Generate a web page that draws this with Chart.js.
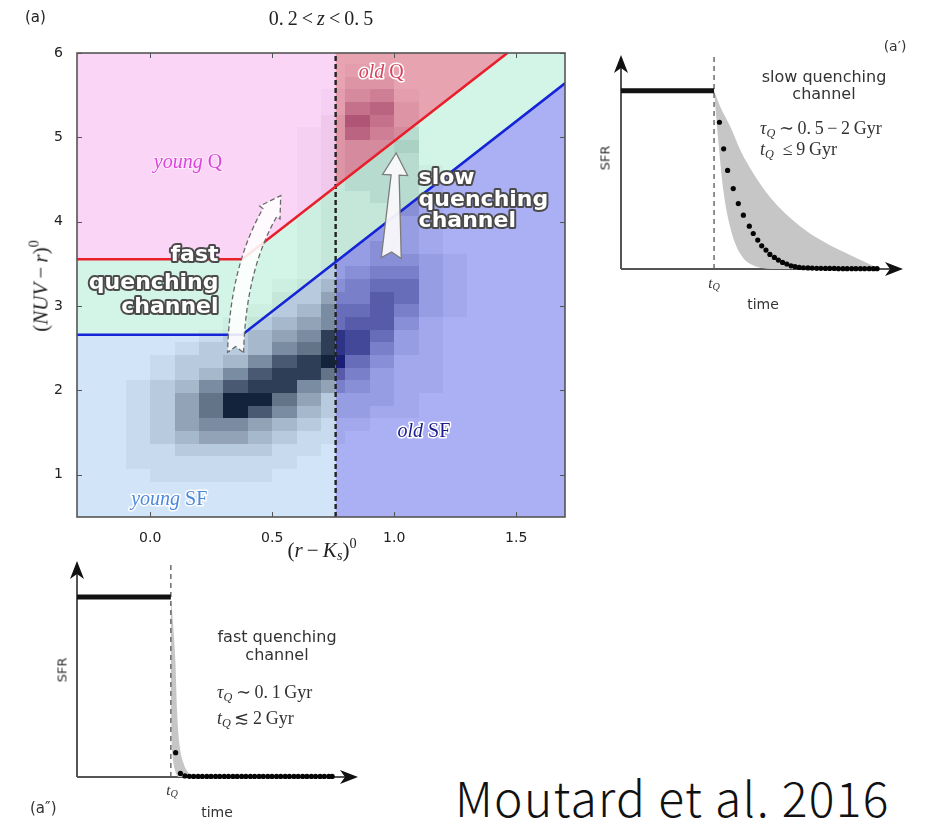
<!DOCTYPE html>
<html>
<head>
<meta charset="utf-8">
<script src="https://cdn.jsdelivr.net/npm/chart.js@4.4.1/dist/chart.umd.min.js"></script>
<style>
  html, body { margin: 0; padding: 0; background: #fff; }
  body { width: 935px; height: 824px; position: relative; overflow: hidden;
         font-family: "DejaVu Sans", sans-serif; color: #222; }
  canvas { position: absolute; }
  .abs { position: absolute; white-space: nowrap; line-height: 1; }
  .c { transform: translate(-50%, -50%); }
  .l { transform: translateY(-50%); }
  .rot { transform: translate(-50%, -50%) rotate(-90deg); }
  .serif { font-family: "Liberation Serif", "DejaVu Serif", serif; }
  sub, sup { font-size: 68%; line-height: 0; }
  sub { vertical-align: -0.25em; }
  sup { vertical-align: 0.6em; }
</style>
</head>
<body>

<canvas id="main" width="600" height="570" style="left:0;top:0"></canvas>
<canvas id="slow" width="345" height="280" style="left:590px;top:40px"></canvas>
<canvas id="fast" width="345" height="276" style="left:46px;top:548px"></canvas>

<!-- main panel text -->
<div class="abs l" style="left:25px;top:17px;font-size:15px;color:#222">(a)</div>
<div class="abs c serif" style="left:321px;top:18px;font-size:20px;color:#222">0.&#8201;2&#8201;&lt;&#8201;<i>z</i>&#8201;&lt;&#8201;0.&#8201;5</div>
<div class="abs rot serif" style="left:41px;top:286px;font-size:21px;color:#222">(<i>NUV</i>&#8201;−&#8201;<i>r</i>)<sup>0</sup></div>
<div class="abs c serif" style="left:322px;top:550px;font-size:21px;color:#222">(<i>r</i>&#8201;−&#8201;<i>K<sub>s</sub></i>)<sup>0</sup></div>

<!-- slow quenching panel text -->
<div class="abs c" style="left:895px;top:46px;font-size:14px;color:#333">(a′)</div>
<div class="abs c" style="left:824px;top:77px;font-size:16px;color:#333">slow quenching</div>
<div class="abs c" style="left:824px;top:94px;font-size:16px;color:#333">channel</div>
<div class="abs l serif" style="left:760px;top:128px;font-size:18px;color:#333"><i>τ<sub>Q</sub></i>&#8201;∼&#8201;0.&#8201;5&#8201;−&#8201;2&#8201;Gyr</div>
<div class="abs l serif" style="left:760px;top:149px;font-size:18px;color:#333"><i>t<sub>Q</sub></i>&#8194;≤&#8201;9&#8201;Gyr</div>
<div class="abs rot" style="left:605px;top:158px;font-size:13px;color:#333">SFR</div>
<div class="abs c serif" style="left:714px;top:283px;font-size:15px;color:#333"><i>t<sub>Q</sub></i></div>
<div class="abs c" style="left:763px;top:304px;font-size:14px;color:#333">time</div>

<!-- fast quenching panel text -->
<div class="abs c" style="left:277px;top:637px;font-size:16px;color:#333">fast quenching</div>
<div class="abs c" style="left:277px;top:655px;font-size:16px;color:#333">channel</div>
<div class="abs l serif" style="left:217px;top:692px;font-size:18px;color:#333"><i>τ<sub>Q</sub></i>&#8201;∼&#8201;0.&#8201;1&#8201;Gyr</div>
<div class="abs l serif" style="left:217px;top:718px;font-size:18px;color:#333"><i>t<sub>Q</sub></i>&#8201;≲&#8201;2&#8201;Gyr</div>
<div class="abs rot" style="left:62px;top:670px;font-size:13px;color:#333">SFR</div>
<div class="abs c serif" style="left:172px;top:790px;font-size:15px;color:#333"><i>t<sub>Q</sub></i></div>
<div class="abs c" style="left:217px;top:812px;font-size:14px;color:#333">time</div>
<div class="abs l" style="left:30px;top:808px;font-size:15px;color:#333">(a″)</div>

<div class="abs l" style="left:455px;top:796px;font-size:48px;font-weight:300;letter-spacing:1.3px;color:#111;font-family:'Noto Sans CJK JP','Noto Sans',sans-serif">Moutard et al. 2016</div>

<script>
// ---------------- colour–colour diagram data ----------------
const xTickValues = [0.0, 0.5, 1.0, 1.5];
const yTickValues = [1, 2, 3, 4, 5, 6];
const xRange = [-0.3, 1.7];
const yRange = [0.5, 6.0];
const ageCut = 0.76;                     // young / old split in (r-Ks)

// quiescent boundary (red) and star-forming boundary (blue)
const redLineX  = [-0.3, 0.377, 1.464];
const redLineY  = [3.555, 3.555, 6.0];
const blueLineX = [-0.3, 0.377, 1.7];
const blueLineY = [2.66, 2.66, 5.64];

// 2D histogram: bins of 0.1 in (r-Ks) starting at -0.3, 0.15 in (NUV-r) starting at 0.47
const binX0 = -0.3, binDX = 0.1, binY0 = 0.47, binDY = 0.15;
// relative density (0..9); first row is the lowest (NUV-r) bin
const densityRows = [
  [0,0,0,0,0,0,0,0,0,0,0,0,0,0,0,0,0,0,0,0],
  [0,0,0,0,0,0,0,0,0,0,0,0,0,0,0,0,0,0,0,0],
  [0,0,0,0,0,0,0,0,0,0,0,0,0,0,0,0,0,0,0,0],
  [0,0,0,1,1,1,1,1,0,0,0,0,0,0,0,0,0,0,0,0],
  [0,0,1,1,1,1,1,1,1,0,0,0,0,0,0,0,0,0,0,0],
  [0,0,1,1,2,2,2,2,1,1,0,0,0,0,0,0,0,0,0,0],
  [0,0,1,2,3,4,4,3,2,1,1,0,0,0,0,0,0,0,0,0],
  [0,0,1,2,4,5,5,4,3,2,1,1,0,0,0,0,0,0,0,0],
  [0,0,1,2,4,6,9,7,5,3,2,2,1,1,0,0,0,0,0,0],
  [0,0,1,2,4,6,9,9,6,4,2,2,2,1,0,0,0,0,0,0],
  [0,0,1,2,3,5,7,8,8,5,4,3,2,1,1,0,0,0,0,0],
  [0,0,0,1,2,3,5,7,8,8,6,4,2,1,1,0,0,0,0,0],
  [0,0,0,1,2,2,3,5,7,8,9,5,3,1,1,0,0,0,0,0],
  [0,0,0,0,1,2,2,3,5,6,8,7,4,2,1,0,0,0,0,0],
  [0,0,0,0,0,1,2,3,4,5,8,7,5,2,1,0,0,0,0,0],
  [0,0,0,0,0,0,1,2,3,4,5,6,6,3,1,0,0,0,0,0],
  [0,0,0,0,0,0,0,1,2,3,5,5,6,4,2,1,0,0,0,0],
  [0,0,0,0,0,0,0,0,2,2,4,4,6,5,2,1,0,0,0,0],
  [0,0,0,0,0,0,0,0,1,2,3,4,5,5,2,1,0,0,0,0],
  [0,0,0,0,0,0,0,0,0,1,2,3,4,4,2,1,0,0,0,0],
  [0,0,0,0,0,0,0,0,0,1,2,2,3,3,2,1,0,0,0,0],
  [0,0,0,0,0,0,0,0,0,1,2,2,3,2,1,0,0,0,0,0],
  [0,0,0,0,0,0,0,0,0,1,2,2,2,2,1,0,0,0,0,0],
  [0,0,0,0,0,0,0,0,0,1,2,2,2,2,1,0,0,0,0,0],
  [0,0,0,0,0,0,0,0,0,1,2,2,2,3,1,0,0,0,0,0],
  [0,0,0,0,0,0,0,0,0,1,2,2,3,3,1,0,0,0,0,0],
  [0,0,0,0,0,0,0,0,0,1,2,3,3,3,1,0,0,0,0,0],
  [0,0,0,0,0,0,0,0,0,1,2,3,3,3,1,0,0,0,0,0],
  [0,0,0,0,0,0,0,0,0,1,2,3,3,3,0,0,0,0,0,0],
  [0,0,0,0,0,0,0,0,0,1,2,3,3,4,0,0,0,0,0,0],
  [0,0,0,0,0,0,0,0,0,1,2,6,4,3,0,0,0,0,0,0],
  [0,0,0,0,0,0,0,0,0,0,2,7,5,2,0,0,0,0,0,0],
  [0,0,0,0,0,0,0,0,0,0,1,5,6,2,0,0,0,0,0,0],
  [0,0,0,0,0,0,0,0,0,0,1,3,4,1,0,0,0,0,0,0],
  [0,0,0,0,0,0,0,0,0,0,0,2,2,0,0,0,0,0,0,0],
  [0,0,0,0,0,0,0,0,0,0,0,1,1,0,0,0,0,0,0,0],
  [0,0,0,0,0,0,0,0,0,0,0,0,0,0,0,0,0,0,0,0]
];

// quenching channel arrows, in (r-Ks, NUV-r) units
const slowArrowBase = [0.988, 3.57];
const slowArrowTip  = [1.008, 4.815];
const fastArrowBase = [0.35, 2.45];
const fastArrowBend = [0.36, 3.6];
const fastArrowTip  = [0.535, 4.31];

// ---------------- SFR history data ----------------
const slowTQ = 3.30;
const slowFlatT = [0, 3.30];
const slowFlatSFR = [1, 1];
const slowDotsT = [3.49,3.64,3.78,3.98,4.16,4.34,4.55,4.69,4.85,4.99,5.14,5.28,5.44,5.58,5.73,5.88,6.03,6.17,6.32,
                   6.47,6.63,6.78,6.94,7.09,7.25,7.40,7.56,7.71,7.87,8.02,8.18,8.33,8.49,8.64,8.80,8.95,9.08];
const slowDotsSFR = [0.823,0.674,0.553,0.451,0.367,0.302,0.240,0.199,0.162,0.130,0.106,0.082,0.065,0.050,0.037,0.028,0.018,0.013,0.009,
                     0.007,0.006,0.005,0.004,0.004,0.003,0.003,0.003,0.002,0.002,0.002,0.002,0.002,0.002,0.002,0.002,0.002,0.002];
const slowBandUpT   = [3.30,3.55,3.87,4.25,4.68,5.15,5.64,6.35,7.16,8.23,9.07];
const slowBandUpSFR = [1.0,0.90,0.80,0.66,0.54,0.43,0.34,0.24,0.155,0.07,0.008];
const slowBandLoT   = [3.30,3.45,3.63,3.87,4.22,4.81,5.50,7.00,9.07];
const slowBandLoSFR = [1.0,0.72,0.44,0.236,0.088,0.013,0.0,0.0,0.0];

const fastTQ = 3.34;
const fastFlatT = [0, 3.34];
const fastFlatSFR = [1, 1];
const fastDotsT = [3.51,3.68,3.84,4.00,4.15,4.31,4.46,4.62,4.77,4.93,5.08,5.24,5.39,5.55,5.70,5.86,6.01,6.17,6.32,
                   6.48,6.63,6.79,6.94,7.10,7.25,7.41,7.56,7.72,7.87,8.03,8.18,8.34,8.49,8.65,8.80,8.96,9.08];
const fastDotsSFR = [0.135,0.020,0.006,0.004,0.003,0.003,0.003,0.003,0.003,0.003,0.003,0.003,0.003,0.003,0.003,0.003,0.003,0.003,0.003,
                     0.003,0.003,0.003,0.003,0.003,0.003,0.003,0.003,0.003,0.003,0.003,0.003,0.003,0.003,0.003,0.003,0.003,0.003];
const fastBandUpT   = [3.34,3.42,3.50,3.56,3.64,3.79,4.03];
const fastBandUpSFR = [1.0,0.85,0.65,0.37,0.19,0.076,0.01];
const fastBandLoT   = [3.34,3.35,3.40,3.50,3.62,4.03];
const fastBandLoSFR = [1.0,0.40,0.12,0.03,0.0,0.0];

// ---------------- helpers ----------------
const pts = (xs, ys) => xs.map((x, i) => ({ x, y: ys[i] }));
const SERIF = '"Liberation Serif", "DejaVu Serif", serif';
const SANS = '"DejaVu Sans", sans-serif';

// region styles: background colour and tint of the density cells
const regionStyles = {
  youngQ:  { bg: '#fad5f6', tint: '120,50,120', gain: 0.6 },
  oldQ:    { bg: '#e8a3b1', tint: '140,35,80',  gain: 0.85 },
  valley:  { bg: '#d3f5e8', tint: '40,95,80',   gain: 0.7 },
  youngSF: { bg: '#d2e4f7', tint: '8,24,48',    gain: 0.95 },
  oldSF:   { bg: '#aab0f3', tint: '18,22,110',  gain: 0.95 }
};

function boundaryPath(ctx, sx, sy, xs, ys, above) {
  const n = xs.length;
  const slope = (ys[n - 1] - ys[n - 2]) / (xs[n - 1] - xs[n - 2]);
  const ext = 3;
  const cap = above ? yRange[1] + 20 : yRange[0] - 20;
  const poly = [[xs[0] - ext, ys[0]]]
    .concat(xs.map((v, i) => [v, ys[i]]))
    .concat([[xs[n - 1] + ext, ys[n - 1] + slope * ext], [xs[n - 1] + ext, cap], [xs[0] - ext, cap]]);
  ctx.beginPath();
  poly.forEach(([vx, vy], i) => {
    const px = sx.getPixelForValue(vx), py = sy.getPixelForValue(vy);
    if (i) ctx.lineTo(px, py); else ctx.moveTo(px, py);
  });
  ctx.closePath();
}

function drawCells(ctx, sx, sy, style) {
  densityRows.forEach((row, k) => {
    row.forEach((v, i) => {
      if (!v) return;
      const x0 = Math.round(sx.getPixelForValue(binX0 + i * binDX));
      const x1 = Math.round(sx.getPixelForValue(binX0 + (i + 1) * binDX));
      const yb = Math.round(sy.getPixelForValue(binY0 + k * binDY));
      const yt = Math.round(sy.getPixelForValue(binY0 + (k + 1) * binDY));
      const alpha = Math.pow(v / 9, 1.35) * style.gain;
      ctx.fillStyle = `rgba(${style.tint},${alpha.toFixed(3)})`;
      ctx.fillRect(x0, yt, x1 - x0, yb - yt);
    });
  });
}

function drawRich(ctx, parts, cx, cy, align, fill, stroke, lw) {
  let w = 0;
  parts.forEach(p => { ctx.font = p[1]; w += ctx.measureText(p[0]).width; });
  let x = align === 'center' ? cx - w / 2 : align === 'right' ? cx - w : cx;
  ctx.textBaseline = 'middle';
  ctx.textAlign = 'left';
  if (stroke) {
    let xs = x;
    parts.forEach(p => {
      ctx.font = p[1];
      ctx.lineWidth = lw; ctx.strokeStyle = stroke; ctx.lineJoin = 'round';
      ctx.strokeText(p[0], xs, cy);
      xs += ctx.measureText(p[0]).width;
    });
  }
  parts.forEach(p => {
    ctx.font = p[1];
    ctx.fillStyle = fill;
    ctx.fillText(p[0], x, cy);
    x += ctx.measureText(p[0]).width;
  });
}

// ---------------- main diagram plugins ----------------
const regionPlugin = {
  id: 'regions',
  beforeDatasetsDraw(chart) {
    const { ctx, chartArea: a, scales: { x: sx, y: sy } } = chart;
    const cutPx = sx.getPixelForValue(ageCut);
    const specs = [
      { s: regionStyles.youngQ,  zones: [['red', true]],  side: 'young' },
      { s: regionStyles.oldQ,    zones: [['red', true]],  side: 'old' },
      { s: regionStyles.valley,  zones: [['red', false], ['blue', true]], side: null },
      { s: regionStyles.youngSF, zones: [['blue', false]], side: 'young' },
      { s: regionStyles.oldSF,   zones: [['blue', false]], side: 'old' }
    ];
    specs.forEach(sp => {
      ctx.save();
      ctx.beginPath();
      ctx.rect(a.left, a.top, a.right - a.left, a.bottom - a.top);
      ctx.clip();
      sp.zones.forEach(([which, above]) => {
        if (which === 'red') boundaryPath(ctx, sx, sy, redLineX, redLineY, above);
        else boundaryPath(ctx, sx, sy, blueLineX, blueLineY, above);
        ctx.clip();
      });
      if (sp.side) {
        ctx.beginPath();
        if (sp.side === 'young') ctx.rect(a.left, a.top, cutPx - a.left, a.bottom - a.top);
        else ctx.rect(cutPx, a.top, a.right - cutPx, a.bottom - a.top);
        ctx.clip();
      }
      ctx.fillStyle = sp.s.bg;
      ctx.fillRect(a.left, a.top, a.right - a.left, a.bottom - a.top);
      drawCells(ctx, sx, sy, sp.s);
      ctx.restore();
    });
  }
};

const annotationPlugin = {
  id: 'annotations',
  afterDatasetsDraw(chart) {
    const { ctx, scales: { x: sx, y: sy } } = chart;
    const P = v => [sx.getPixelForValue(v[0]), sy.getPixelForValue(v[1])];
    ctx.save();

    // slow channel: straight tapered arrow
    {
      const B = P(slowArrowBase), T = P(slowArrowTip);
      const dx = T[0] - B[0], dy = T[1] - B[1], L = Math.hypot(dx, dy);
      const d = [dx / L, dy / L], n = [-d[1], d[0]];
      const at = (s, w) => [B[0] + d[0] * s + n[0] * w, B[1] + d[1] * s + n[1] * w];
      const poly = [at(0, 10), at(L - 22, 4), at(L - 22, 12.5), T, at(L - 22, -12.5), at(L - 22, -4), at(0, -10), at(6, 0)];
      ctx.beginPath();
      poly.forEach((p, i) => i ? ctx.lineTo(p[0], p[1]) : ctx.moveTo(p[0], p[1]));
      ctx.closePath();
      ctx.fillStyle = 'rgba(248,248,250,0.95)';
      ctx.fill();
      ctx.strokeStyle = '#7c7c7c';
      ctx.lineWidth = 1.3;
      ctx.stroke();
    }

    // fast channel: curved dashed arrow
    {
      const p0 = P(fastArrowBase), c = P(fastArrowBend), p1 = P(fastArrowTip);
      const bez = t => [(1 - t) * (1 - t) * p0[0] + 2 * (1 - t) * t * c[0] + t * t * p1[0],
                        (1 - t) * (1 - t) * p0[1] + 2 * (1 - t) * t * c[1] + t * t * p1[1]];
      const headL = 20, half = 8, headHalf = 12;
      let th = 1;
      for (let t = 1; t > 0; t -= 0.002) {
        const q = bez(t);
        if (Math.hypot(q[0] - p1[0], q[1] - p1[1]) >= headL) { th = t; break; }
      }
      const N = 40, left = [], right = [];
      for (let j = 0; j <= N; j++) {
        const t = th * j / N;
        const q = bez(t);
        const tx = 2 * (1 - t) * (c[0] - p0[0]) + 2 * t * (p1[0] - c[0]);
        const ty = 2 * (1 - t) * (c[1] - p0[1]) + 2 * t * (p1[1] - c[1]);
        const tl = Math.hypot(tx, ty);
        const nx = -ty / tl, ny = tx / tl;
        left.push([q[0] + nx * half, q[1] + ny * half]);
        right.push([q[0] - nx * half, q[1] - ny * half]);
      }
      const hb = bez(th);
      const hx = p1[0] - hb[0], hy = p1[1] - hb[1], hl = Math.hypot(hx, hy);
      const hn = [-hy / hl, hx / hl];
      const t0x = c[0] - p0[0], t0y = c[1] - p0[1], t0l = Math.hypot(t0x, t0y);
      const notch = [p0[0] + t0x / t0l * 6, p0[1] + t0y / t0l * 6];
      const poly = left.concat([[hb[0] + hn[0] * headHalf, hb[1] + hn[1] * headHalf], p1,
                                [hb[0] - hn[0] * headHalf, hb[1] - hn[1] * headHalf]])
                       .concat(right.slice().reverse()).concat([notch]);
      ctx.beginPath();
      poly.forEach((p, i) => i ? ctx.lineTo(p[0], p[1]) : ctx.moveTo(p[0], p[1]));
      ctx.closePath();
      ctx.fillStyle = 'rgba(255,255,255,0.88)';
      ctx.fill();
      ctx.setLineDash([5, 3]);
      ctx.strokeStyle = '#6a6a6a';
      ctx.lineWidth = 1.3;
      ctx.stroke();
      ctx.setLineDash([]);
    }

    // region names
    const it = 'italic 20px ' + SERIF, up = '20px ' + SERIF;
    let q = P([0.155, 4.70]);
    drawRich(ctx, [['young', it], [' Q', up]], q[0], q[1], 'center', '#dd44dd', 'rgba(255,255,255,0.6)', 2);
    q = P([0.947, 5.77]);
    drawRich(ctx, [['old', it], [' Q', up]], q[0], q[1], 'center', '#d8435e', '#ffffff', 3);
    q = P([0.078, 0.71]);
    drawRich(ctx, [['young', it], [' SF', up]], q[0], q[1], 'center', '#4c88dc', '#ffffff', 3);
    q = P([1.122, 1.51]);
    drawRich(ctx, [['old', it], [' SF', up]], q[0], q[1], 'center', '#1c1c8e', '#ffffff', 3);

    // channel names: white letters with a dark outline
    const bold = 'bold 22px ' + SANS;
    [['fast', 3.607], ['quenching', 3.275], ['channel', 2.99]].forEach(([t, yv]) => {
      const p = P([0.28, yv]);
      drawRich(ctx, [[t, bold]], p[0], p[1], 'right', '#ffffff', '#4a4a4a', 4);
    });
    [['slow', 4.52], ['quenching', 4.26], ['channel', 4.0]].forEach(([t, yv]) => {
      const p = P([1.10, yv]);
      drawRich(ctx, [[t, bold]], p[0], p[1], 'left', '#ffffff', '#4a4a4a', 4);
    });
    ctx.restore();
  }
};

const framePlugin = {
  id: 'frame',
  afterDraw(chart) {
    const { ctx, chartArea: a, scales: { x: sx, y: sy } } = chart;
    ctx.save();
    ctx.strokeStyle = '#555';
    ctx.lineWidth = 1;
    ctx.beginPath();
    xTickValues.forEach(v => {
      const px = Math.round(sx.getPixelForValue(v)) + 0.5;
      ctx.moveTo(px, a.bottom); ctx.lineTo(px, a.bottom - 5);
      ctx.moveTo(px, a.top); ctx.lineTo(px, a.top + 5);
    });
    yTickValues.forEach(v => {
      const py = Math.round(sy.getPixelForValue(v)) + 0.5;
      ctx.moveTo(a.left, py); ctx.lineTo(a.left + 5, py);
      ctx.moveTo(a.right, py); ctx.lineTo(a.right - 5, py);
    });
    ctx.stroke();
    ctx.lineWidth = 1.6;
    ctx.strokeStyle = '#555';
    ctx.strokeRect(a.left, a.top, a.right - a.left, a.bottom - a.top);
    ctx.restore();
  }
};

new Chart(document.getElementById('main'), {
  type: 'scatter',
  data: {
    datasets: [
      { data: pts(redLineX, redLineY), showLine: true, borderColor: '#e8202c', borderWidth: 2.6, pointRadius: 0 },
      { data: pts(blueLineX, blueLineY), showLine: true, borderColor: '#1424d6', borderWidth: 2.6, pointRadius: 0 },
      { data: [{ x: ageCut, y: yRange[0] }, { x: ageCut, y: yRange[1] }], showLine: true,
        borderColor: '#222', borderWidth: 2.4, borderDash: [5, 3], pointRadius: 0 }
    ]
  },
  options: {
    responsive: false,
    animation: false,
    events: [],
    layout: { padding: { top: 53, right: 35, left: 0, bottom: 0 } },
    plugins: { legend: { display: false }, tooltip: { enabled: false } },
    scales: {
      x: {
        type: 'linear', min: xRange[0], max: xRange[1],
        grid: { display: false }, border: { display: false },
        afterBuildTicks: s => { s.ticks = xTickValues.map(v => ({ value: v })); },
        afterFit: s => { s.height = 53; },
        ticks: { padding: 5, color: '#222', font: { family: 'DejaVu Sans', size: 14 }, callback: v => v.toFixed(1) }
      },
      y: {
        type: 'linear', min: yRange[0], max: yRange[1],
        grid: { display: false }, border: { display: false },
        afterBuildTicks: s => { s.ticks = yTickValues.map(v => ({ value: v })); },
        afterFit: s => { s.width = 77; },
        ticks: { padding: 6, color: '#222', font: { family: 'DejaVu Sans', size: 14 }, callback: v => String(v) }
      }
    }
  },
  plugins: [regionPlugin, annotationPlugin, framePlugin]
});

// ---------------- SFR history panels ----------------
const arrowAxesPlugin = {
  id: 'arrowAxes',
  beforeDatasetsDraw(chart) {
    const { ctx, scales: { x: sx, y: sy } } = chart;
    const x0 = sx.getPixelForValue(0), y0 = sy.getPixelForValue(0);
    const xe = sx.getPixelForValue(sx.max), ye = sy.getPixelForValue(sy.max);
    ctx.save();
    ctx.strokeStyle = '#555';
    ctx.lineWidth = 2;
    ctx.beginPath();
    ctx.moveTo(x0, y0); ctx.lineTo(xe - 8, y0);
    ctx.moveTo(x0, y0); ctx.lineTo(x0, ye + 8);
    ctx.stroke();
    ctx.fillStyle = '#111';
    ctx.beginPath();
    ctx.moveTo(xe, y0); ctx.lineTo(xe - 18, y0 - 7); ctx.lineTo(xe - 13, y0); ctx.lineTo(xe - 18, y0 + 7); ctx.closePath();
    ctx.fill();
    ctx.beginPath();
    ctx.moveTo(x0, ye); ctx.lineTo(x0 - 7, ye + 18); ctx.lineTo(x0, ye + 13); ctx.lineTo(x0 + 7, ye + 18); ctx.closePath();
    ctx.fill();
    ctx.restore();
  }
};

function sfrPanel(id, padding, tQ, flatT, flatS, dotsT, dotsS, upT, upS, loT, loS) {
  new Chart(document.getElementById(id), {
    type: 'scatter',
    data: {
      datasets: [
        { data: pts(upT, upS), showLine: true, fill: '+1', backgroundColor: '#c6c6c6',
          borderWidth: 0, pointRadius: 0, cubicInterpolationMode: 'monotone', order: 5 },
        { data: pts(loT, loS), showLine: true, fill: false,
          borderWidth: 0, pointRadius: 0, cubicInterpolationMode: 'monotone', order: 5 },
        { data: [{ x: tQ, y: 0 }, { x: tQ, y: 1.2 }], showLine: true, borderColor: '#555',
          borderWidth: 1.3, borderDash: [5, 4], pointRadius: 0, order: 4 },
        { data: pts(flatT, flatS), showLine: true, borderColor: '#111', borderWidth: 5,
          pointRadius: 0, clip: false, order: 2 },
        { data: pts(dotsT, dotsS), showLine: false, pointRadius: 2.6, backgroundColor: '#050505',
          borderWidth: 0, clip: false, order: 1 }
      ]
    },
    options: {
      responsive: false,
      animation: false,
      events: [],
      layout: { padding },
      plugins: { legend: { display: false }, tooltip: { enabled: false } },
      scales: {
        x: { type: 'linear', min: 0, max: 10, display: false },
        y: { type: 'linear', min: 0, max: 1.2, display: false }
      }
    },
    plugins: [arrowAxesPlugin]
  });
}

sfrPanel('slow', { left: 31, right: 32, top: 15, bottom: 51 }, slowTQ, slowFlatT, slowFlatSFR,
         slowDotsT, slowDotsSFR, slowBandUpT, slowBandUpSFR, slowBandLoT, slowBandLoSFR);
sfrPanel('fast', { left: 31, right: 33, top: 13, bottom: 47 }, fastTQ, fastFlatT, fastFlatSFR,
         fastDotsT, fastDotsSFR, fastBandUpT, fastBandUpSFR, fastBandLoT, fastBandLoSFR);
</script>
</body>
</html>
